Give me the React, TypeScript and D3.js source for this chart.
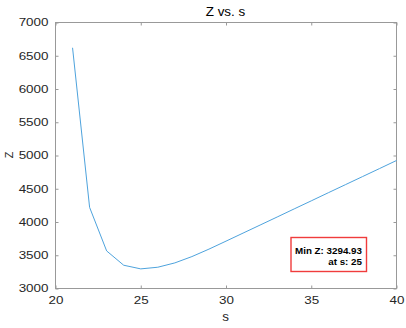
import { useEffect, useRef } from 'react';
import * as d3 from 'd3';

// s values and the Z
const sValues = [21, 22, 23, 24, 25, 26, 27, 28, 29, 30, 31, 32, 33, 34, 35, 36, 37, 38, 39, 40];
const zValues = [6620, 4220, 3565, 3350, 3294.93, 3320, 3385, 3480, 3592, 3712, 3833, 3954, 4075, 4197, 4318, 4440, 4561, 4682, 4803, 4925];
const xTicks = [20, 25, 30, 35, 40];
const yTicks = [3000, 3500, 4000, 4500, 5000, 5500, 6000, 6500, 7000];
const minLines = ['Min Z: 3294.93', 'at s: 25'];

const App = () => {
  const ref = useRef<SVGSVGElement>(null);

  useEffect(() => {
    const width = 406;
    const height = 328;
    const margin = { top: 22, right: 10, bottom: 40, left: 55 };
    const innerW = width - margin.left - margin.right;
    const innerH = height - margin.top - margin.bottom;
    const axisColor = '#999';
    const textColor = '#262626';
    const font = 'Liberation Sans, Arial, Helvetica, sans-serif';
    const stretch = 1.28; // the reference's text is wide

    const svg = d3.select(ref.current);
    svg.selectAll('*').remove();

    svg.append('rect').attr('width', width).attr('height', height).attr('fill', '#fff');

    const g = svg.append('g').attr('transform', `translate(${margin.left + 0.5},${margin.top + 0.5})`);

    const x = d3.scaleLinear().domain([20, 40]).range([0, innerW]);
    const y = d3.scaleLinear().domain([3000, 7000]).range([innerH, 0]);

    // ticks inward on all four sides
    const styleAxis = (sel: any) => {
      sel.select('.domain').remove();
      sel.selectAll('line').attr('stroke', axisColor);
      sel.selectAll('text')
        .attr('fill', textColor)
        .style('font-family', font)
        .style('font-size', '10.5px')
        .attr('x', function (this: SVGTextElement) {
          return +(this.getAttribute('x') || 0) / stretch;
        })
        .attr('transform', `scale(${stretch},1)`);
    };

    g.append('g')
      .attr('transform', `translate(0,${innerH})`)
      .call(d3.axisBottom(x).tickValues(xTicks).tickSizeInner(-3).tickSizeOuter(0).tickPadding(8.5))
      .call(styleAxis);
    g.append('g')
      .call(d3.axisTop(x).tickValues(xTicks).tickSizeInner(-3).tickSizeOuter(0).tickFormat(() => ''))
      .call(styleAxis);
    g.append('g')
      .call(d3.axisLeft(y).tickValues(yTicks).tickFormat(d3.format('d')).tickSizeInner(-3).tickSizeOuter(0).tickPadding(7))
      .call(styleAxis);
    g.append('g')
      .attr('transform', `translate(${innerW},0)`)
      .call(d3.axisRight(y).tickValues(yTicks).tickSizeInner(-3).tickSizeOuter(0).tickFormat(() => ''))
      .call(styleAxis);

    g.append('rect')
      .attr('width', innerW)
      .attr('height', innerH)
      .attr('fill', 'none')
      .attr('stroke', axisColor)
      .attr('stroke-width', 1);

    const data = sValues.map((s, i) => ({ s, z: zValues[i] }));
    const line = d3.line<{ s: number; z: number }>()
      .x((d) => x(d.s))
      .y((d) => y(d.z));

    g.append('path')
      .attr('d', line(data))
      .attr('fill', 'none')
      .attr('stroke', '#4ea3dd')
      .attr('stroke-width', 1);

    // title and axis labels
    const cx = (margin.left + innerW / 2) / 1.12;
    svg.append('text')
      .attr('x', cx)
      .attr('y', 16.5)
      .attr('transform', 'scale(1.12,1)')
      .attr('text-anchor', 'middle')
      .attr('fill', '#000')
      .style('font-family', font)
      .style('font-size', '12px')
      .text('Z vs. s');

    svg.append('text')
      .attr('x', cx)
      .attr('y', 321.5)
      .attr('transform', 'scale(1.12,1)')
      .attr('text-anchor', 'middle')
      .attr('fill', textColor)
      .style('font-family', font)
      .style('font-size', '12px')
      .text('s');

    svg.append('text')
      .attr('transform', `translate(13,${margin.top + innerH / 2}) rotate(-90)`)
      .attr('text-anchor', 'middle')
      .attr('fill', textColor)
      .style('font-family', font)
      .style('font-size', '11px')
      .text('Z');

    // min annotation box
    const box = svg.append('g');
    box.append('rect')
      .attr('x', 291)
      .attr('y', 237.5)
      .attr('width', 75.5)
      .attr('height', 34)
      .attr('fill', '#fff')
      .attr('stroke', '#f03c3c')
      .attr('stroke-width', 1.4);
    box.selectAll('text.note')
      .data(minLines)
      .join('text')
      .attr('class', 'note')
      .attr('x', 362)
      .attr('y', (_, i) => 253.8 + i * 11.6)
      .attr('text-anchor', 'end')
      .attr('fill', '#000')
      .style('font-family', font)
      .style('font-size', '9.8px')
      .style('font-weight', 'bold')
      .text((d) => d);
  }, []);

  return (
    <svg
      ref={ref}
      width={406}
      height={328}
      style={{ position: 'absolute', left: 0, top: 0 }}
    />
  );
};

export default App;
